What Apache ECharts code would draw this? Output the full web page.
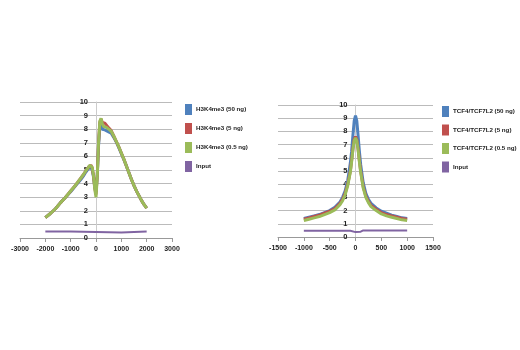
<!DOCTYPE html>
<html>
<head>
<meta charset="utf-8">
<script src="https://cdn.jsdelivr.net/npm/echarts@6/dist/echarts.min.js"></script>
<style>
  html, body { margin: 0; padding: 0; background: #fff; }
  #chart { width: 520px; height: 350px; }
</style>
</head>
<body>
<div id="chart"></div>
<script>
// left panel: H3K4me3 profile around TSS
var xLeft = [-2000,-1800,-1600,-1400,-1200,-1000,-800,-600,-500,-400,-300,-250,-200,-150,-100,-50,0,50,100,150,200,250,300,350,400,500,600,700,800,900,1000,1100,1200,1300,1400,1500,1600,1700,1800,1900,2000];
var h3k50 = [1.5,1.8,2.15,2.6,3.0,3.4,3.85,4.3,4.55,4.85,5.1,5.2,5.2,5.0,4.5,3.8,3.4,4.6,6.8,8.1,8.3,8.0,7.9,7.95,7.85,7.8,7.7,7.4,7.05,6.65,6.2,5.75,5.3,4.8,4.3,3.85,3.45,3.1,2.75,2.45,2.2];
var h3k5 = [1.5,1.8,2.15,2.6,3.0,3.45,3.9,4.4,4.65,4.95,5.2,5.3,5.35,5.15,4.6,3.7,3.2,4.6,7.0,8.5,8.75,8.5,8.4,8.45,8.35,8.1,7.9,7.5,7.1,6.7,6.25,5.8,5.3,4.8,4.3,3.85,3.45,3.1,2.75,2.45,2.2];
var h3k05 = [1.5,1.8,2.15,2.6,3.0,3.45,3.9,4.4,4.65,4.95,5.2,5.35,5.4,5.2,4.6,3.6,3.0,4.5,7.0,8.6,8.8,8.4,8.2,8.25,8.15,8.0,7.85,7.5,7.1,6.7,6.25,5.8,5.3,4.8,4.3,3.85,3.45,3.1,2.75,2.45,2.2];
var inputLeftX = [-2000,-1000,-950,1000,1050,2000];
var inputLeft = [0.47,0.47,0.4,0.4,0.47,0.47];

// right panel: TCF4/TCF7L2 profile
var xRight = [-1000,-900,-800,-700,-600,-500,-400,-300,-250,-200,-150,-100,-75,-50,-25,0,25,50,75,100,150,200,250,300,400,500,600,700,800,900,1000];
var tcf50 = [1.4,1.5,1.6,1.7,1.85,2.0,2.25,2.65,3.0,3.5,4.3,5.6,6.5,7.7,8.8,9.2,8.8,7.7,6.5,5.5,4.1,3.3,2.85,2.55,2.2,1.95,1.8,1.65,1.55,1.45,1.4];
var tcf5 = [1.35,1.45,1.55,1.65,1.8,1.95,2.15,2.55,2.85,3.3,4.0,5.0,5.8,6.7,7.4,7.6,7.4,6.7,5.8,5.0,3.8,3.1,2.7,2.4,2.1,1.85,1.7,1.6,1.5,1.4,1.35];
var tcf05 = [1.25,1.35,1.45,1.55,1.7,1.85,2.05,2.45,2.75,3.2,3.9,4.9,5.7,6.6,7.3,7.5,7.3,6.6,5.7,4.9,3.7,3.0,2.6,2.3,2.0,1.75,1.6,1.5,1.4,1.3,1.25];
var inputRightX = [-1000,-100,0,100,150,1000];
var inputRight = [0.47,0.47,0.37,0.4,0.5,0.5];

var namesLeft = ['H3K4me3 (50 ng)', 'H3K4me3 (5 ng)', 'H3K4me3 (0.5 ng)', 'Input'];
var namesRight = ['TCF4/TCF7L2 (50 ng)', 'TCF4/TCF7L2 (5 ng)', 'TCF4/TCF7L2 (0.5 ng)', 'Input '];
var colors = ['#4F81BD', '#C0504D', '#9BBB59', '#8064A2'];

var FONT = '"Liberation Sans Narrow", "Liberation Sans", Arial, sans-serif';

function pairs(xs, ys) {
  return xs.map(function (x, i) { return [x, ys[i]]; });
}

function makeX(idx, min, max, step) {
  return {
    type: 'value', gridIndex: idx, min: min, max: max, interval: step,
    splitLine: { show: false },
    axisLine: { onZero: false, lineStyle: { color: '#999' } },
    axisTick: { show: true, length: 4, lineStyle: { color: '#999' } },
    axisLabel: {
      color: '#222', fontFamily: FONT, fontWeight: 'bold', fontSize: 7, margin: 8,
      formatter: function (v) { return String(v); }
    }
  };
}
// y axis sits at x = 0, so shift it right by half the grid width
function makeY(idx, shift) {
  return {
    type: 'value', gridIndex: idx, min: 0, max: 10, interval: 1,
    offset: -shift,
    axisLine: { show: true, onZero: false, lineStyle: { color: '#ccc' } },
    axisTick: { show: false },
    splitLine: { lineStyle: { color: '#bbb', width: 1 } },
    axisLabel: { color: '#222', fontFamily: FONT, fontWeight: 'bold', fontSize: 7.5, margin: 8 }
  };
}
function line(name, xi, data, color, w) {
  return {
    name: name, type: 'line', xAxisIndex: xi, yAxisIndex: xi,
    data: data, symbol: 'none', color: color,
    lineStyle: { width: w, color: color }, animation: false
  };
}

var legendText = { fontFamily: FONT, fontWeight: 'bold', fontSize: 6.2, color: '#222', padding: [0, 0, 0, -1] };

var chart = echarts.init(document.getElementById('chart'));
chart.setOption({
  animation: false,
  color: colors,
  grid: [
    { left: 20, width: 152, top: 102, height: 136 },
    { left: 278, width: 155, top: 105, height: 132 }
  ],
  xAxis: [makeX(0, -3000, 3000, 1000), makeX(1, -1500, 1500, 500)],
  yAxis: [makeY(0, 76), makeY(1, 77.5)],
  legend: [
    {
      data: namesLeft, orient: 'vertical', left: 185, top: 104, padding: 0,
      icon: 'rect', itemWidth: 7, itemHeight: 11, itemGap: 8,
      textStyle: legendText
    },
    {
      data: namesRight, orient: 'vertical', left: 442, top: 106, padding: 0,
      icon: 'rect', itemWidth: 7, itemHeight: 11, itemGap: 7.5,
      textStyle: legendText
    }
  ],
  series: [
    line(namesLeft[0], 0, pairs(xLeft, h3k50), colors[0], 3),
    line(namesLeft[1], 0, pairs(xLeft, h3k5), colors[1], 3),
    line(namesLeft[2], 0, pairs(xLeft, h3k05), colors[2], 3),
    line(namesLeft[3], 0, pairs(inputLeftX, inputLeft), colors[3], 2),
    line(namesRight[0], 1, pairs(xRight, tcf50), colors[0], 3),
    line(namesRight[1], 1, pairs(xRight, tcf5), colors[1], 3),
    line(namesRight[2], 1, pairs(xRight, tcf05), colors[2], 3),
    line(namesRight[3], 1, pairs(inputRightX, inputRight), colors[3], 2)
  ]
});
</script>
</body>
</html>
